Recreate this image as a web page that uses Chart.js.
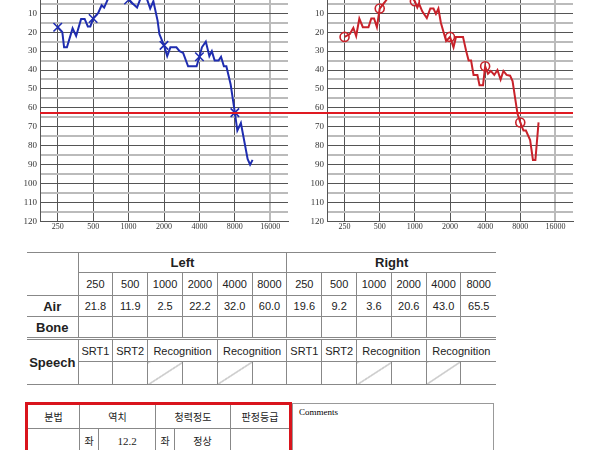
<!DOCTYPE html>
<html><head><meta charset="utf-8">
<script src="https://cdn.jsdelivr.net/npm/chart.js@4"></script>
<style>
body{margin:0;width:600px;height:450px;overflow:hidden;background:#fff;position:relative;font-family:"Liberation Sans",Arial,sans-serif;}
.c{position:absolute;}
table{border-collapse:collapse;position:absolute;table-layout:fixed;}
td{border:1px solid #888;text-align:center;font-size:11px;color:#222;padding:0;white-space:nowrap;overflow:hidden;}
.kr{font-family:"Noto Sans CJK KR",sans-serif;font-size:10px;}
.b{font-weight:bold;font-size:13px;}
</style></head><body>
<div class="c" style="left:0;top:-33px;width:300px;height:266px"><canvas id="L"></canvas></div>
<div class="c" style="left:287px;top:-33px;width:298px;height:266px"><canvas id="R"></canvas></div>
<div class="c" style="left:40px;top:112px;width:533px;height:2px;background:#e01a22"></div>

<table style="left:27px;top:252px;width:469px">
<colgroup><col style="width:51px"><col span="12" style="width:34.8px"></colgroup>
<tr style="height:20px"><td rowspan="2" style="border-left:none"></td><td colspan="6" class="b">Left</td><td colspan="6" class="b" style="border-right:none">Right</td></tr>
<tr style="height:23px" id="freqRow"></tr>
<tr style="height:21px" id="airRow"><td class="b" style="border-left:none">Air</td></tr>
<tr style="height:22px" id="boneRow"><td class="b" style="border-left:none">Bone</td></tr>
<tr style="height:23px;border-top:3px double #888" id="spRow"><td rowspan="2" class="b" style="border-left:none">Speech</td></tr>
<tr style="height:23px" id="sp2Row"></tr>
</table>

<table style="left:25px;top:402px;width:264px;border:3px solid #d9141c">
<colgroup><col style="width:53px"><col style="width:19px"><col style="width:57px"><col style="width:19px"><col style="width:56px"><col style="width:60px"></colgroup>
<tr style="height:25px"><td class="kr">분법</td><td class="kr" colspan="2">역치</td><td class="kr" colspan="2">청력정도</td><td class="kr">판정등급</td></tr>
<tr style="height:24px"><td class="kr" rowspan="2" style="vertical-align:bottom">3분법</td><td class="kr">좌</td><td style="font-family:'Liberation Serif';font-size:11px">12.2</td><td class="kr">좌</td><td class="kr">정상</td><td rowspan="2"></td></tr>
<tr style="height:20px"><td></td><td></td><td></td><td></td></tr>
</table>
<div class="c" style="left:292px;top:403px;width:202px;height:60px;border:1px solid #999;font-family:'Liberation Serif';font-size:9px;padding:3px 6px;box-sizing:border-box">Comments</div>

<script>
const freqLabels=["250","500","1000","2000","4000","8000","16000"];
const tableFreqs=["250","500","1000","2000","4000","8000"];
const leftAir=["21.8","11.9","2.5","22.2","32.0","60.0"];
const rightAir=["19.6","9.2","3.6","20.6","43.0","65.5"];
const speechHeads=["SRT1","SRT2","Recognition","Recognition"];
// x in octaves above 250 Hz, y in dB HL
const leftX=[0,.13,.18,.26,.42,.52,.66,.76,.85,.92,1.0,1.14,1.24,1.31,1.43,1.52,1.76,2.0,2.1,2.24,2.34,2.44,2.51,2.61,2.7,2.82,2.87,3.0,3.09,3.18,3.35,3.44,3.54,3.68,3.92,4.0,4.07,4.18,4.28,4.35,4.43,4.54,4.61,4.69,4.76,4.88,5.0,5.07,5.17,5.36,5.43,5.5];
const leftDb=[17.4,20,28,28,18,22,13,13,17,17,12.8,10,5.8,7,2,0,-2,2.5,4.6,7,2,-1,2,7.5,3.7,14,21,27,32.6,28,28,30,31,38,38,33,28,25,32.6,30,35,35,33,38,38,47.5,62.5,72,68,87,90,87.5];
const leftMarkDb=[17.4,12.8,3,27,33,62.5];
const rightX=[0,.15,.25,.33,.42,.52,.68,.76,.84,.92,1.0,1.16,1.3,1.5,1.75,1.9,2.0,2.07,2.12,2.21,2.34,2.44,2.53,2.6,2.67,2.74,2.89,3.0,3.1,3.17,3.37,3.46,3.53,3.6,3.67,3.78,3.84,3.94,4.0,4.08,4.16,4.26,4.35,4.44,4.52,4.61,4.71,4.78,4.92,5.0,5.09,5.16,5.28,5.36,5.43,5.52];
const rightDb=[22.5,21,17.7,22,12.8,17.4,17.4,12.8,12.8,17.4,7.5,3.7,0,-3,-2,1,3.7,7,5,9,12.5,7.5,7.5,10.3,7.5,15,24.7,22.5,28,22.5,22.5,30,35,35,42.6,42.6,48,48,38,42,40.5,42.6,40,45,40.5,42.6,43,45.8,63,67.7,72,72,77,87.5,87.5,67.7];
const rightMarkDb=[22.5,7.5,3.7,22.5,38,67.7];

function fill(){
  const fr=document.getElementById('freqRow'),ar=document.getElementById('airRow'),br=document.getElementById('boneRow'),sp=document.getElementById('spRow'),sp2=document.getElementById('sp2Row');
  [...tableFreqs,...tableFreqs].forEach((f,i)=>{const t=document.createElement('td');t.textContent=f;if(i==11)t.style.borderRight='none';fr.appendChild(t);});
  [...leftAir,...rightAir].forEach((v,i)=>{const t=document.createElement('td');t.textContent=v;if(i==11)t.style.borderRight='none';ar.appendChild(t);});
  for(let i=0;i<12;i++){const t=document.createElement('td');if(i==11)t.style.borderRight='none';br.appendChild(t);}
  for(let s=0;s<2;s++)speechHeads.forEach((h,i)=>{const t=document.createElement('td');t.textContent=h;if(i>1)t.colSpan=2;if(s==1&&i==3)t.style.borderRight='none';sp.appendChild(t);});
  const diag="background:linear-gradient(to bottom right,transparent calc(50% - 0.6px),#777 50%,transparent calc(50% + 0.6px))";
  for(let s=0;s<2;s++)for(let i=0;i<6;i++){const t=document.createElement('td');if(i==2||i==4)t.setAttribute('style',diag);if(s==1&&i==5)t.style.borderRight='none';sp2.appendChild(t);}
}
fill();

function mk(id,xs,ys,marks,color,style){
  new Chart(document.getElementById(id),{
    type:'line',
    data:{datasets:[
      {data:xs.map((x,i)=>({x,y:ys[i]})),borderColor:color,borderWidth:2,pointRadius:0,tension:0},
      {data:marks.map((y,i)=>({x:i,y})),showLine:false,pointStyle:style,pointRadius:style=='circle'?4.5:6,borderColor:color,backgroundColor:'transparent',pointBorderWidth:1.6}
    ]},
    options:{animation:false,responsive:true,maintainAspectRatio:false,
      layout:{padding:{top:5,right:12,left:0,bottom:0}},
      plugins:{legend:{display:false},tooltip:{enabled:false}},
      scales:{
        x:{type:'linear',min:-0.5,max:6.5,
          afterBuildTicks:s=>{s.ticks=freqLabels.map((_,i)=>({value:i}));},
          ticks:{autoSkip:false,maxRotation:0,padding:1,color:'#333',font:{family:'Liberation Serif',size:8},callback:(v)=>freqLabels[v]},
          grid:{color:c=>c.tick&&c.tick.value==6?'#bbb':'#555',lineWidth:c=>c.tick&&c.tick.value==6?2:1,drawTicks:false},border:{color:'#555'}},
        y:{reverse:true,min:-10,max:120,
          afterBuildTicks:s=>{const t=[];for(let v=-10;v<=120;v+=5)t.push({value:v});s.ticks=t;},
          afterFit:s=>{s.width=40;},
          ticks:{autoSkip:false,padding:3,color:'#333',font:{family:'Liberation Serif',size:9},callback:v=>v%10==0?v:''},
          grid:{color:c=>c.tick&&c.tick.value%10==0?'#555':'#bbb',lineWidth:c=>c.tick&&c.tick.value%10==0?1:2,drawTicks:false},border:{color:'#555'}}
      }}
  });
}
mk('L',leftX,leftDb,leftMarkDb,'#1f2db0','crossRot');
mk('R',rightX,rightDb,rightMarkDb,'#c8222a','circle');
</script>
</body></html>
